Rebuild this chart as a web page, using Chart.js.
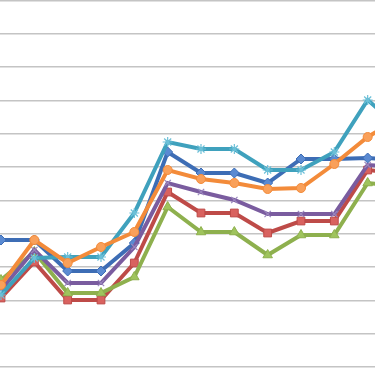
<!DOCTYPE html>
<html>
<head>
<meta charset="utf-8">
<script src="https://cdn.jsdelivr.net/npm/chart.js@4/dist/chart.umd.min.js"></script>
<style>
  html, body { margin: 0; padding: 0; background: #fff; }
  #wrap { width: 375px; height: 375px; }
</style>
</head>
<body>
<div id="wrap"><canvas id="chart"></canvas></div>
<script>
// values (grid step = 10)
const categories = [0, 1, 2, 3, 4, 5, 6, 7, 8, 9, 10, 11, 12];
const blueValues   = [38.1, 38.1, 28.8, 28.8, 37.2, 64.5, 58.2, 58.2, 55.2, 62.4, 62.4, 62.7, 62.1];
const redValues    = [20.7, 31.5, 20.1, 20.1, 31.2, 52.5, 46.2, 46.2, 40.2, 43.8, 43.8, 59.1, 58.2];
const greenValues  = [26.1, 34.5, 22.2, 22.2, 27.0, 48.0, 40.5, 40.5, 33.6, 39.6, 39.6, 55.2, 54.3];
const purpleValues = [23.1, 35.1, 25.2, 25.2, 36.0, 55.2, 52.5, 50.1, 45.9, 45.9, 45.9, 60.6, 60.0];
const tealValues   = [21.6, 32.7, 33.0, 33.0, 46.2, 67.5, 65.4, 65.4, 59.1, 59.1, 64.5, 80.1, 71.4];
const orangeValues = [24.6, 38.1, 31.2, 36.0, 40.5, 59.1, 56.4, 55.2, 53.4, 53.7, 60.9, 69.0, 75.0];
const gridTicks = [0, 10, 20, 30, 40, 50, 60, 70, 80, 90, 100, 110];

function toPoints(values) {
    return values.map((v, i) => ({ x: categories[i], y: v }));
}

const series = [
    { label: 'Series 1', data: blueValues,   color: '#3d6db5', fill: '#5a8ad2', style: 'rectRot',  radius: 5 },
    { label: 'Series 2', data: redValues,    color: '#be4b48', fill: '#d9625f', style: 'rect',     radius: 5.5 },
    { label: 'Series 3', data: greenValues,  color: '#8eb04e', fill: '#9fc45c', style: 'triangle', radius: 5.5 },
    { label: 'Series 4', data: purpleValues, color: '#7a5c9f', fill: '#9a86bd', style: 'crossRot', radius: 4.5 },
    { label: 'Series 5', data: tealValues,   color: '#3fa1bd', fill: '#6cc0d8', style: 'star',     radius: 5 },
    { label: 'Series 6', data: orangeValues, color: '#f38b3a', fill: '#f9a05a', style: 'circle',   radius: 4.5 }
];

const datasets = series.map((s, idx) => ({
    label: s.label,
    data: toPoints(s.data),
    borderColor: s.color,
    backgroundColor: s.color,
    borderWidth: 4,
    pointStyle: s.style,
    pointRadius: s.radius,
    pointBackgroundColor: s.fill,
    pointBorderColor: (s.style === 'crossRot' || s.style === 'star') ? s.fill : s.color,
    pointBorderWidth: (s.style === 'crossRot' || s.style === 'star') ? 1.2 : 1,
    tension: 0,
    order: series.length - idx
}));

const ctx = document.getElementById('chart').getContext('2d');
new Chart(ctx, {
    type: 'line',
    data: { datasets: datasets },
    options: {
        responsive: true,
        maintainAspectRatio: false,
        animation: false,
        layout: { padding: 0, autoPadding: false },
        plugins: {
            legend: { display: false },
            tooltip: { enabled: false }
        },
        scales: {
            x: {
                type: 'linear',
                min: -0.03,
                max: 11.22,
                grid: { display: false, drawTicks: false },
                border: { display: false },
                ticks: { display: false }
            },
            y: {
                type: 'linear',
                min: -2.4,
                max: 110.1,
                afterBuildTicks: (scale) => {
                    scale.ticks = gridTicks.map(v => ({ value: v }));
                },
                grid: { color: '#c4c4c4', lineWidth: 1.6, drawTicks: false, tickLength: 0 },
                border: { display: false },
                ticks: { display: false }
            }
        }
    }
});
</script>
</body>
</html>
